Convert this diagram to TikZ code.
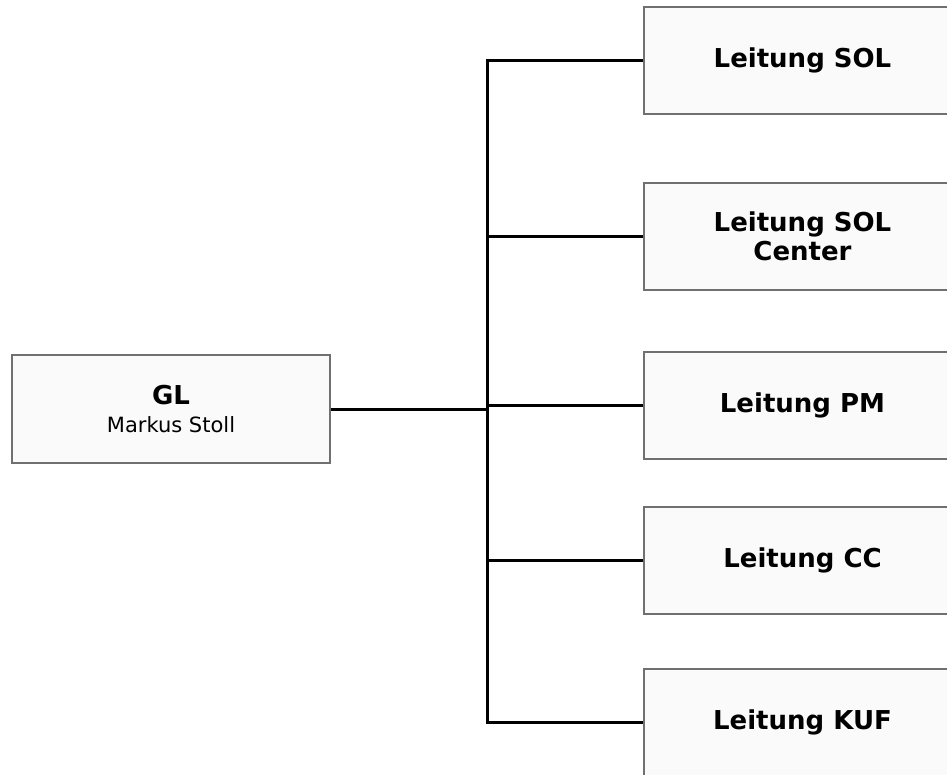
\documentclass[tikz,border=0pt]{standalone}
\usepackage{fontspec}
\setmainfont{DejaVu Sans}
\definecolor{boxline}{HTML}{707070}
\definecolor{boxfill}{HTML}{FAFAFA}
\begin{document}
\begin{tikzpicture}[x=1pt,y=-1pt,
  box/.style={draw=boxline, line width=2pt, fill=boxfill, rectangle, inner sep=0pt, align=center},
  unitbox/.style={box, minimum width=317pt, minimum height=107pt, font=\fontsize{26}{31}\selectfont\bfseries},
  conn/.style={draw=black, line width=3pt}]
\useasboundingbox (0,0) rectangle (947,774);
\clip (0,0) rectangle (947,774);
\fill[white] (0,0) rectangle (947,774);
\node[box, minimum width=318pt, minimum height=108pt, font=\fontsize{21}{28}\selectfont] (gl) at (171,409)
  {{\fontsize{26}{28}\selectfont\bfseries GL}\\{Markus Stoll}};
\node[unitbox] (sol)  at (802.5,60.5) {Leitung SOL};
\node[unitbox] (solc) at (802.5,236) {\raisebox{-2pt}{Leitung SOL}\\Center};
\node[unitbox] (pm)   at (802.5,405.5) {Leitung PM};
\node[unitbox] (cc)   at (802.5,560) {Leitung CC};
\node[unitbox] (kuf)  at (802.5,722) {Leitung KUF};
\coordinate (tx) at (487,0);
\draw[conn] (sol.west) -- (sol.west -| tx) -- (kuf.west -| tx) -- (kuf.west);
\draw[conn] (solc.west) -- (solc.west -| tx);
\draw[conn] (pm.west) -- (pm.west -| tx);
\draw[conn] (cc.west) -- (cc.west -| tx);
\draw[conn] (gl.east) -- (gl.east -| tx);
\end{tikzpicture}
\end{document}
